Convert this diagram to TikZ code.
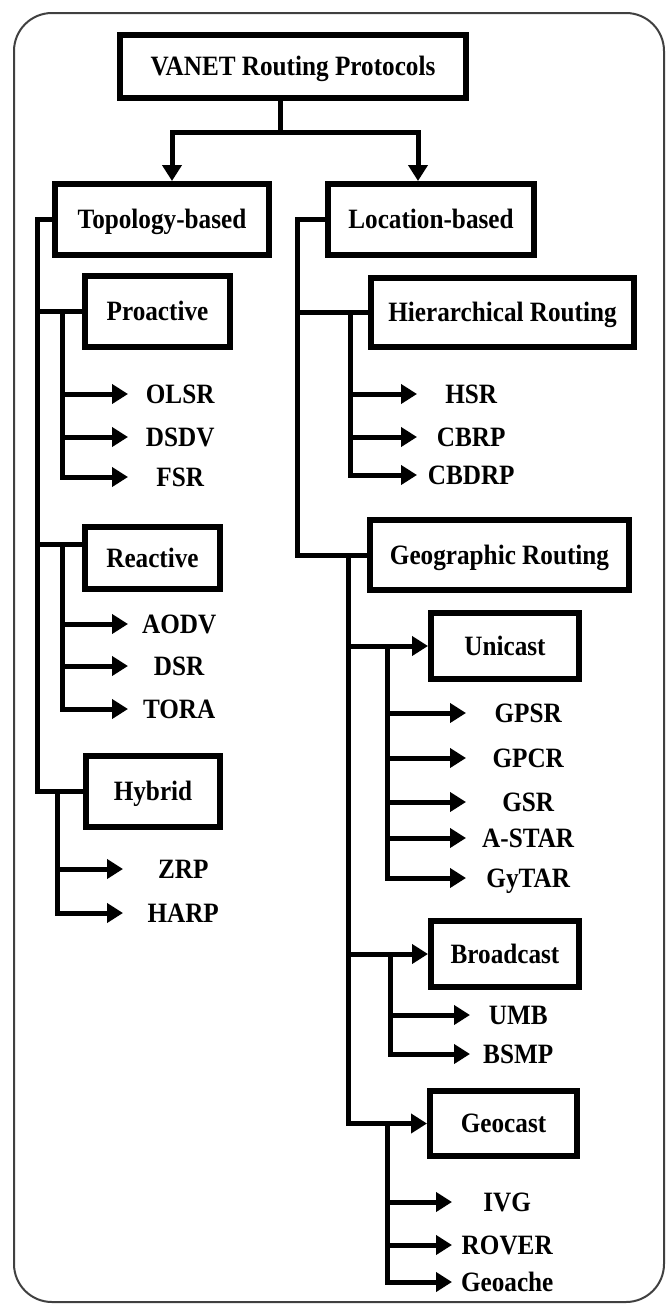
\documentclass[tikz,border=0pt]{standalone}
\usepackage{fontspec}
\setmainfont{Liberation Serif}[FakeStretch=0.9]
\usetikzlibrary{arrows.meta, positioning}

\begin{document}
\begin{tikzpicture}[
        x=1pt, y=-1pt,
        % Style for the category boxes
        catbox/.style={
            rectangle, draw=black, line width=6pt, fill=white,
            inner sep=0pt, align=center,
            font=\fontsize{28}{30}\selectfont\bfseries,
            text height=18pt, text depth=0pt
        },
        % Style for the protocol names at the arrow tips
        proto/.style={
            inner sep=0pt, anchor=west,
            font=\fontsize{28}{30}\selectfont\bfseries,
            text height=18pt, text depth=0pt
        },
        link/.style={line width=5pt},
        branch/.style={line width=5pt, -{Triangle[length=16pt, width=19pt]}}
    ]

        \useasboundingbox (0,0) rectangle (665,1304);

        % 1. Outer frame
        \draw[line width=2pt, draw=black!75, rounded corners=38pt] (14,13) rectangle (664,1302);

        % 2. Category boxes
        \node[catbox, minimum width=346pt, minimum height=63pt] (root) at (293,66.5) {VANET Routing Protocols};
        \node[catbox, minimum width=214pt, minimum height=71pt] (topo) at (162,219.5) {Topology-based};
        \node[catbox, minimum width=206pt, minimum height=71pt] (loc)  at (431,219.5) {Location-based};

        \node[catbox, minimum width=145pt, minimum height=71pt] (pro) at (157.5,311.5) {Proactive};
        \node[catbox, minimum width=135pt, minimum height=62pt] (rea) at (152.5,558) {Reactive};
        \node[catbox, minimum width=134pt, minimum height=71pt] (hyb) at (153,791.5) {Hybrid};

        \node[catbox, minimum width=263pt, minimum height=69pt] (hier)  at (502.5,312.5) {Hierarchical Routing};
        \node[catbox, minimum width=259pt, minimum height=70pt] (geo)   at (499.5,555) {Geographic Routing};
        \node[catbox, minimum width=148pt, minimum height=66pt] (uni)   at (505,646) {Unicast};
        \node[catbox, minimum width=148pt, minimum height=66pt] (bro)   at (505,954) {Broadcast};
        \node[catbox, minimum width=147pt, minimum height=65pt] (gcast) at (503.5,1123.5) {Geocast};

        % 3. Protocols (west anchor = arrow tip)
        \node[proto, minimum width=104pt] (olsr) at (128,394) {OLSR};
        \node[proto, minimum width=104pt] (dsdv) at (128,437) {DSDV};
        \node[proto, minimum width=104pt] (fsr)  at (128,477) {FSR};

        \node[proto, minimum width=102pt] (aodv) at (128,624) {AODV};
        \node[proto, minimum width=102pt] (dsr)  at (128,666) {DSR};
        \node[proto, minimum width=102pt] (tora) at (128,709) {TORA};

        \node[proto, minimum width=120pt] (zrp)  at (123,869) {ZRP};
        \node[proto, minimum width=120pt] (harp) at (123,913) {HARP};

        \node[proto, minimum width=108pt] (hsr)   at (417,394) {HSR};
        \node[proto, minimum width=108pt] (cbrp)  at (417,437) {CBRP};
        \node[proto, minimum width=108pt] (cbdrp) at (417,475) {CBDRP};

        \node[proto, minimum width=124pt] (gpsr)  at (466,713) {GPSR};
        \node[proto, minimum width=124pt] (gpcr)  at (466,758) {GPCR};
        \node[proto, minimum width=124pt] (gsr)   at (466,802) {GSR};
        \node[proto, minimum width=124pt] (astar) at (466,838) {A-STAR};
        \node[proto, minimum width=124pt] (gytar) at (466,878) {GyTAR};

        \node[proto, minimum width=96pt] (umb)  at (470,1015) {UMB};
        \node[proto, minimum width=96pt] (bsmp) at (470,1054) {BSMP};

        \node[proto, minimum width=110pt] (ivg)     at (452,1202) {IVG};
        \node[proto, minimum width=110pt] (rover)   at (452,1245) {ROVER};
        \node[proto, minimum width=110pt] (geoache) at (452,1282) {Geoache};

        % 4. Bus lines (only their x matters)
        \coordinate (split) at (280,132);
        \coordinate (tdrop) at (172,132);
        \coordinate (ldrop) at (418,132);
        \coordinate (tbus)  at (37,0);
        \coordinate (pbus)  at (62,0);
        \coordinate (rbus)  at (62,0);
        \coordinate (hbus)  at (57,0);
        \coordinate (lbus)  at (297,0);
        \coordinate (hrbus) at (350,0);
        \coordinate (gbus)  at (348,0);
        \coordinate (ubus)  at (387,0);
        \coordinate (bbus)  at (390,0);
        \coordinate (cbus)  at (387,0);
        \coordinate (reatap) at ([yshift=14pt]rea.west);

        % 5. Root split
        \draw[branch] (root.south -| split) |- (tdrop) -- (tdrop |- topo.north);
        \draw[branch] (root.south -| split) |- (ldrop) -- (ldrop |- loc.north);

        % 6. Topology-based side
        \draw[link] (topo.west) -- (topo.west -| tbus) |- (hyb.west);
        \draw[link] (tbus |- pro.west) -- (pro.west);
        \draw[link] (tbus |- reatap) -- (reatap);

        \draw[branch] (pbus |- pro.west) |- (fsr.west);
        \draw[branch] (pbus |- olsr.west) -- (olsr.west);
        \draw[branch] (pbus |- dsdv.west) -- (dsdv.west);

        \draw[branch] (rbus |- reatap) |- (tora.west);
        \draw[branch] (rbus |- aodv.west) -- (aodv.west);
        \draw[branch] (rbus |- dsr.west) -- (dsr.west);

        \draw[branch] (hbus |- hyb.west) |- (harp.west);
        \draw[branch] (hbus |- zrp.west) -- (zrp.west);

        % 7. Location-based side
        \draw[link] (loc.west) -- (loc.west -| lbus) |- (geo.west);
        \draw[link] (lbus |- hier.west) -- (hier.west);

        \draw[branch] (hrbus |- hier.west) |- (cbdrp.west);
        \draw[branch] (hrbus |- hsr.west) -- (hsr.west);
        \draw[branch] (hrbus |- cbrp.west) -- (cbrp.west);

        \draw[branch] (gbus |- geo.west) |- (gcast.west);
        \draw[branch] (gbus |- uni.west) -- (uni.west);
        \draw[branch] (gbus |- bro.west) -- (bro.west);

        \draw[branch] (ubus |- uni.west) |- (gytar.west);
        \draw[branch] (ubus |- gpsr.west) -- (gpsr.west);
        \draw[branch] (ubus |- gpcr.west) -- (gpcr.west);
        \draw[branch] (ubus |- gsr.west) -- (gsr.west);
        \draw[branch] (ubus |- astar.west) -- (astar.west);

        \draw[branch] (bbus |- bro.west) |- (bsmp.west);
        \draw[branch] (bbus |- umb.west) -- (umb.west);

        \draw[branch] (cbus |- gcast.west) |- (geoache.west);
        \draw[branch] (cbus |- ivg.west) -- (ivg.west);
        \draw[branch] (cbus |- rover.west) -- (rover.west);

\end{tikzpicture}
\end{document}
